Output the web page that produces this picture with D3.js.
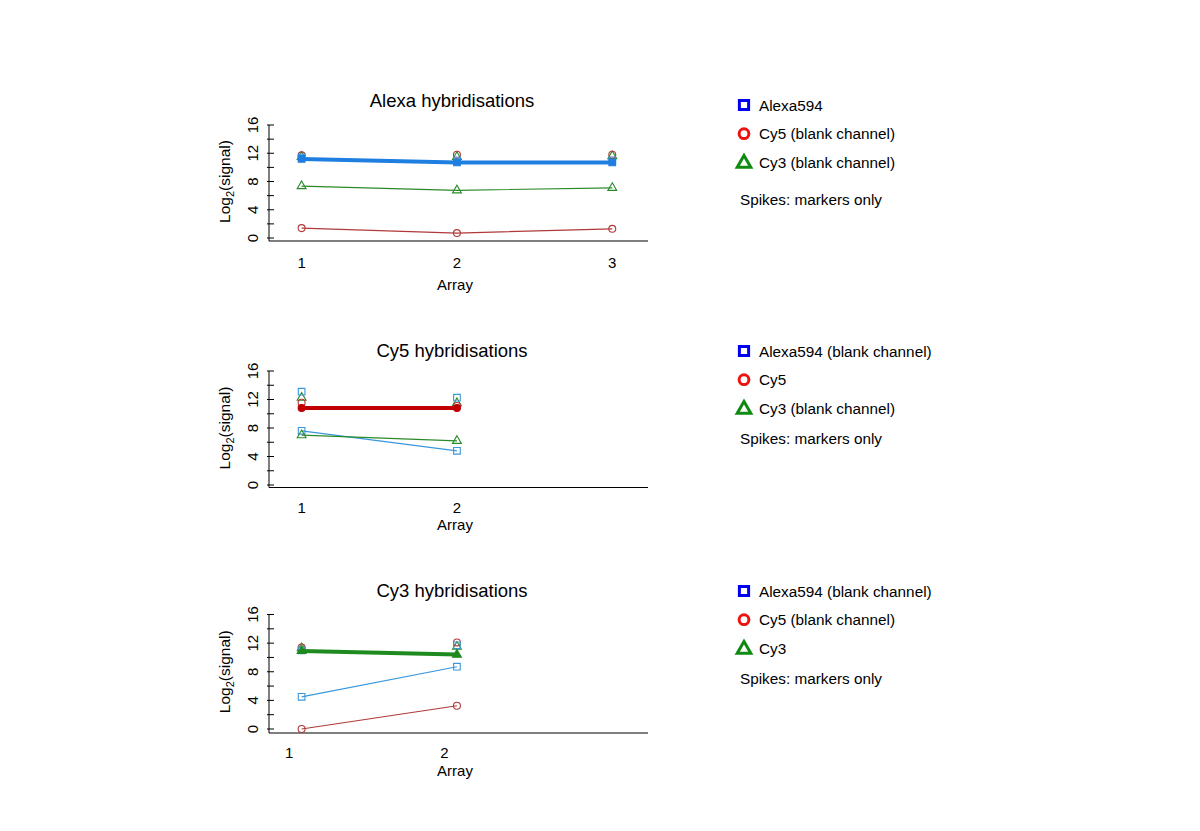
<!DOCTYPE html>
<html>
<head>
<meta charset="utf-8">
<script src="https://cdn.jsdelivr.net/npm/d3@7"></script>
<style>
  body { margin: 0; background: #fff; }
  text { font-family: "Liberation Sans", Arial, sans-serif; fill: #000; }
</style>
</head>
<body>
<svg id="chart" width="1200" height="831"></svg>
<script>
// ---------- data ----------
const panelTitles = ["Alexa hybridisations", "Cy5 hybridisations", "Cy3 hybridisations"];
const arraysAlexa = [1, 2, 3];
const arraysCy5 = [1, 2];
const arraysCy3 = [1, 2];
const yTickValues = [0, 2, 4, 6, 8, 10, 12, 14, 16];
const yTickLabels = [0, 4, 8, 12, 16];

// Alexa hybridisations
const alexaHybAlexa = [11.2, 10.7, 10.7];
const alexaHybCy5 = [1.4, 0.7, 1.3];
const alexaHybCy3 = [7.35, 6.75, 7.1];
const alexaHybSpikeAlexa = [11.4, 11.0, 11.0];
const alexaHybSpikeCy5 = [11.7, 11.8, 11.8];
const alexaHybSpikeCy3 = [11.5, 11.5, 11.6];

// Cy5 hybridisations
const cy5HybAlexa = [7.6, 4.8];
const cy5HybCy5 = [10.8, 10.8];
const cy5HybCy3 = [7.0, 6.2];
const cy5HybSpikeAlexa = [13.1, 12.25];
const cy5HybSpikeCy5 = [11.55, 11.1];
const cy5HybSpikeCy3 = [12.25, 11.5];

// Cy3 hybridisations
const cy3HybAlexa = [4.5, 8.7];
const cy3HybCy5 = [0.0, 3.25];
const cy3HybCy3 = [10.9, 10.4];
const cy3HybSpikeAlexa = [11.0, 11.7];
const cy3HybSpikeCy5 = [11.4, 12.1];
const cy3HybSpikeCy3 = [11.3, 11.5];

const legendAlexa = ["Alexa594", "Cy5 (blank channel)", "Cy3 (blank channel)"];
const legendCy5 = ["Alexa594 (blank channel)", "Cy5", "Cy3 (blank channel)"];
const legendCy3 = ["Alexa594 (blank channel)", "Cy5 (blank channel)", "Cy3"];
const spikeNote = "Spikes: markers only";

// ---------- styles ----------
const col = {
  alexaThick: "#1f7fe0", alexaThin: "#3a97dc", alexaLeg: "#0000ee",
  cy5Thick: "#c00000", cy5Thin: "#b03a3a", cy5Leg: "#ee1111",
  cy3Thick: "#1f8a1f", cy3Thin: "#2a8a2a", cy3Leg: "#108a10"
};

const panels = [
  { title: panelTitles[0], arrays: arraysAlexa, top: 125, bottom: 238, axisY: 241, titleY: 107, tickY: 268, xlabY: 290, labelShift: 0,
    main: "alexa", legend: legendAlexa, legTop: 105,
    series: { alexa: alexaHybAlexa, cy5: alexaHybCy5, cy3: alexaHybCy3 },
    spikes: { alexa: alexaHybSpikeAlexa, cy5: alexaHybSpikeCy5, cy3: alexaHybSpikeCy3 } },
  { title: panelTitles[1], arrays: arraysCy5, top: 371, bottom: 485, axisY: 487.5, titleY: 357, tickY: 513, xlabY: 530, labelShift: 0,
    main: "cy5", legend: legendCy5, legTop: 351,
    series: { alexa: cy5HybAlexa, cy5: cy5HybCy5, cy3: cy5HybCy3 },
    spikes: { alexa: cy5HybSpikeAlexa, cy5: cy5HybSpikeCy5, cy3: cy5HybSpikeCy3 } },
  { title: panelTitles[2], arrays: arraysCy3, top: 614.5, bottom: 729, axisY: 733, titleY: 597, tickY: 758, xlabY: 776, labelShift: -0.08,
    main: "cy3", legend: legendCy3, legTop: 591,
    series: { alexa: cy3HybAlexa, cy5: cy3HybCy5, cy3: cy3HybCy3 },
    spikes: { alexa: cy3HybSpikeAlexa, cy5: cy3HybSpikeCy5, cy3: cy3HybSpikeCy3 } }
];

const svg = d3.select("#chart");
const axisX = 269, axisRight = 648;
const x = d3.scaleLinear().domain([0.79, 3.23]).range([axisX, axisRight]);

const shapeOf = { alexa: d3.symbolSquare, cy5: d3.symbolCircle, cy3: d3.symbolTriangle };
const sizeOf = { alexa: 44, cy5: 38, cy3: 34 };

function drawMarker(g, key, cx, cy, color, filled, size) {
  g.append("path")
    .attr("d", d3.symbol().type(shapeOf[key]).size(size || sizeOf[key])())
    .attr("transform", `translate(${cx},${cy})`)
    .attr("fill", filled ? color : "#fff")
    .attr("fill-opacity", filled ? 1 : 0)
    .attr("stroke", color)
    .attr("stroke-width", 1.1);
}

panels.forEach(p => {
  const g = svg.append("g");
  const y = d3.scaleLinear().domain([0, 16]).range([p.bottom, p.top]);

  // title
  g.append("text").attr("x", 452).attr("y", p.titleY).attr("text-anchor", "middle")
    .style("font-size", "18.5px").text(p.title);

  // y axis
  g.append("line").attr("x1", axisX).attr("x2", axisX).attr("y1", y(16)).attr("y2", p.axisY)
    .attr("stroke", "#000").attr("stroke-width", 1);
  yTickValues.forEach(v => {
    g.append("line").attr("x1", axisX - 2).attr("x2", axisX + 5).attr("y1", y(v)).attr("y2", y(v))
      .attr("stroke", "#000").attr("stroke-width", 1);
  });
  yTickLabels.forEach(v => {
    g.append("text").attr("transform", `translate(${axisX - 11},${y(v)}) rotate(-90)`)
      .attr("text-anchor", "middle").style("font-size", "15px").text(v);
  });
  const ylab = g.append("text")
    .attr("transform", `translate(${axisX - 39},${(y(0) + y(16)) / 2}) rotate(-90)`)
    .attr("text-anchor", "middle").style("font-size", "15.5px");
  ylab.append("tspan").text("Log");
  ylab.append("tspan").attr("dy", 4).style("font-size", "11px").text("2");
  ylab.append("tspan").attr("dy", -4).text("(signal)");

  // x axis line
  g.append("line").attr("x1", axisX).attr("x2", axisRight).attr("y1", p.axisY).attr("y2", p.axisY)
    .attr("stroke", "#000").attr("stroke-width", 1.2);
  p.arrays.forEach(a => {
    g.append("text").attr("x", x(a + p.labelShift)).attr("y", p.tickY).attr("text-anchor", "middle")
      .style("font-size", "15px").text(a);
  });
  g.append("text").attr("x", 455).attr("y", p.xlabY).attr("text-anchor", "middle")
    .style("font-size", "15px").text("Array");

  const line = d3.line().x((d, i) => x(p.arrays[i])).y(d => y(d));

  // spikes (markers only)
  ["cy3", "cy5", "alexa"].forEach(k => {
    p.spikes[k].forEach((v, i) => drawMarker(g, k, x(p.arrays[i]), y(v), col[k + "Thin"], false));
  });

  // blank channels: thin lines with open markers
  ["alexa", "cy5", "cy3"].filter(k => k !== p.main).forEach(k => {
    g.append("path").datum(p.series[k]).attr("d", line).attr("fill", "none")
      .attr("stroke", col[k + "Thin"]).attr("stroke-width", 1.2);
    p.series[k].forEach((v, i) => drawMarker(g, k, x(p.arrays[i]), y(v), col[k + "Thin"], false));
  });

  // main channel: thick line with filled markers
  const m = p.main;
  g.append("path").datum(p.series[m]).attr("d", line).attr("fill", "none")
    .attr("stroke", col[m + "Thick"]).attr("stroke-width", 4);
  p.series[m].forEach((v, i) => drawMarker(g, m, x(p.arrays[i]), y(v), col[m + "Thick"], true));

  // legend
  const keys = ["alexa", "cy5", "cy3"];
  p.legend.forEach((lab, i) => {
    const ly = p.legTop + i * 28.7;
    const k = keys[i];
    const sym = { alexa: d3.symbolSquare, cy5: d3.symbolCircle, cy3: d3.symbolTriangle }[k];
    const sz = { alexa: 85, cy5: 75, cy3: 80 }[k];
    g.append("path").attr("d", d3.symbol().type(sym).size(sz)())
      .attr("transform", `translate(744,${ly + (k === "cy3" ? 1 : 0)})`)
      .attr("fill", "none").attr("stroke", col[k + "Leg"]).attr("stroke-width", 3);
    g.append("text").attr("x", 759).attr("y", ly + 5.5).style("font-size", "15.3px").text(lab);
  });
  g.append("text").attr("x", 740).attr("y", p.legTop + 3 * 28.7 + 7 + (p.main === "alexa" ? 7 : 0))
    .style("font-size", "15.3px").text(spikeNote);
});
</script>
</body>
</html>
